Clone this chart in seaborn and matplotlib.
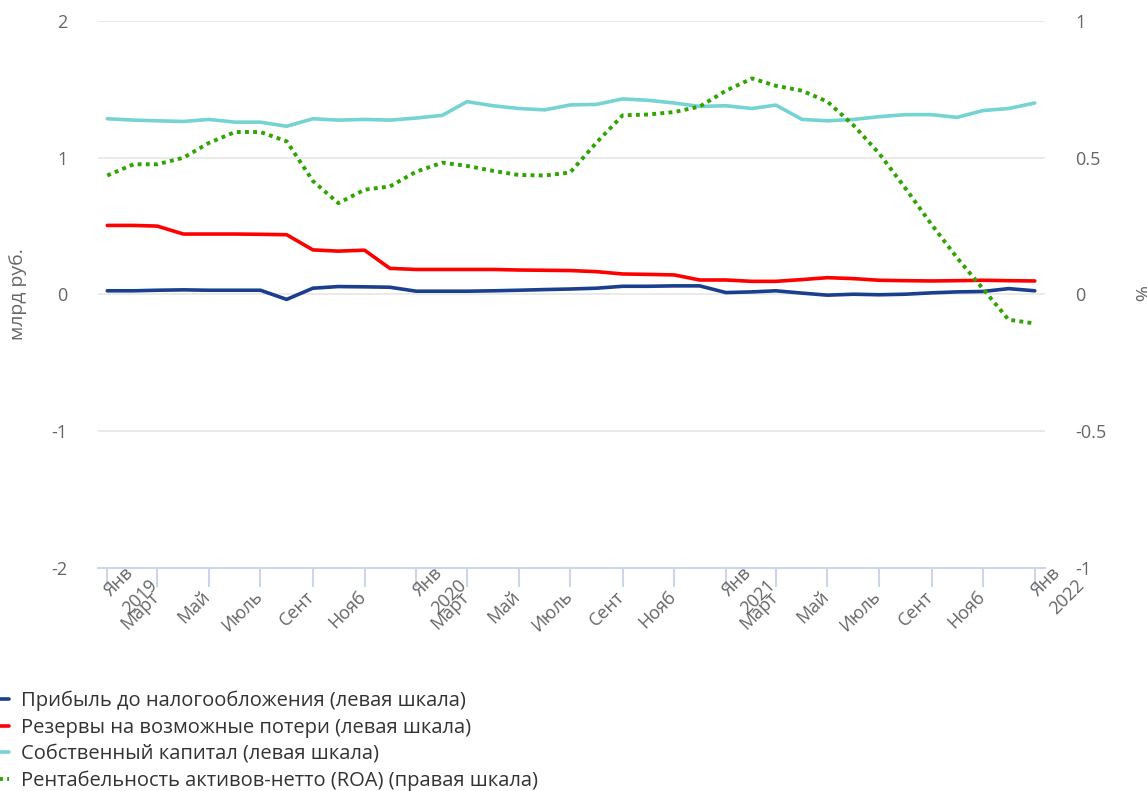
import pandas as pd
import numpy as np
import matplotlib
matplotlib.use('Agg')
import matplotlib.pyplot as plt
import seaborn as sns

# monthly data, Jan 2019 .. Jan 2022
months = pd.date_range('2019-01-01', '2022-01-01', freq='MS')

profit = [0.027, 0.027, 0.031, 0.034, 0.031, 0.031, 0.031, -0.036, 0.046, 0.058, 0.056, 0.053,
          0.024, 0.024, 0.024, 0.027, 0.031, 0.036, 0.040, 0.046, 0.060, 0.060, 0.063, 0.063,
          0.014, 0.019, 0.027, 0.010, -0.005, 0.002, -0.002, 0.002, 0.012, 0.019, 0.022, 0.043,
          0.027]
reserves = [0.505, 0.505, 0.500, 0.442, 0.442, 0.442, 0.440, 0.437, 0.326, 0.317, 0.324, 0.191,
            0.183, 0.183, 0.183, 0.183, 0.179, 0.177, 0.175, 0.167, 0.150, 0.147, 0.143, 0.106,
            0.106, 0.096, 0.096, 0.109, 0.123, 0.116, 0.104, 0.101, 0.099, 0.101, 0.104, 0.101,
            0.099]
capital = [1.285, 1.275, 1.270, 1.265, 1.280, 1.260, 1.260, 1.230, 1.285, 1.275, 1.280, 1.275,
           1.290, 1.310, 1.410, 1.380, 1.360, 1.350, 1.386, 1.390, 1.430, 1.420, 1.400, 1.375,
           1.380, 1.360, 1.385, 1.280, 1.270, 1.280, 1.300, 1.315, 1.315, 1.295, 1.345, 1.360,
           1.400]
roa = [0.435, 0.476, 0.476, 0.500, 0.554, 0.594, 0.594, 0.560, 0.415, 0.334, 0.383, 0.395,
       0.449, 0.482, 0.470, 0.452, 0.437, 0.435, 0.446, 0.555, 0.655, 0.658, 0.667, 0.687,
       0.745, 0.790, 0.763, 0.745, 0.705, 0.618, 0.516, 0.389, 0.256, 0.135, 0.020, -0.092,
       -0.106]

labels = ['Прибыль до налогообложения (левая шкала)',
          'Резервы на возможные потери (левая шкала)',
          'Собственный капитал (левая шкала)',
          'Рентабельность активов-нетто (ROA) (правая шкала)']
colors = ['#1b3f8f', '#ff0000', '#76d3d3', '#2ea500']

tick_dates = pd.to_datetime(['2019-01-01', '2019-03-01', '2019-05-01', '2019-07-01', '2019-09-01', '2019-11-01',
                             '2020-01-01', '2020-03-01', '2020-05-01', '2020-07-01', '2020-09-01', '2020-11-01',
                             '2021-01-01', '2021-03-01', '2021-05-01', '2021-07-01', '2021-09-01', '2021-11-01',
                             '2022-01-01'])
tick_labels = ['Янв\n2019', 'Март', 'Май', 'Июль', 'Сент', 'Нояб',
               'Янв\n2020', 'Март', 'Май', 'Июль', 'Сент', 'Нояб',
               'Янв\n2021', 'Март', 'Май', 'Июль', 'Сент', 'Нояб',
               'Янв\n2022']

sns.set_style('white')
plt.rcParams['font.family'] = ['Open Sans', 'DejaVu Sans']

fig = plt.figure(figsize=(11.47, 7.91), dpi=100)
ax = fig.add_axes([0.0854, 0.2819, 0.8256, 0.6916])
ax2 = ax.twinx()

df = pd.DataFrame({'date': months, 'profit': profit, 'reserves': reserves,
                   'capital': capital, 'roa': roa})

lw = 2.6
sns.lineplot(data=df, x='date', y='profit', ax=ax, color=colors[0], lw=lw, label=labels[0], legend=False)
sns.lineplot(data=df, x='date', y='reserves', ax=ax, color=colors[1], lw=lw, label=labels[1], legend=False)
sns.lineplot(data=df, x='date', y='capital', ax=ax, color=colors[2], lw=lw, label=labels[2], legend=False)
sns.lineplot(data=df, x='date', y='roa', ax=ax2, color=colors[3], lw=2.8, label=labels[3], legend=False,
             linestyle=(0, (1, 1.1)))

ax.set_ylim(-2, 2)
ax2.set_ylim(-1, 1)
ax.set_xlim(pd.Timestamp('2019-01-01') - pd.Timedelta(days=11), pd.Timestamp('2022-01-01') + pd.Timedelta(days=12))

ax.set_yticks([-2, -1, 0, 1, 2])
ax.set_yticklabels(['-2', '-1', '0', '1', '2'])
ax2.set_yticks([-1, -0.5, 0, 0.5, 1])
ax2.set_yticklabels(['-1', '-0.5', '0', '0.5', '1'])

# gridlines
for v in [-1, 0, 1, 2]:
    ax.axhline(v, color='#e6e6e6', lw=1.2, zorder=0)

for a in (ax, ax2):
    for s in ['top', 'left', 'right', 'bottom']:
        a.spines[s].set_visible(False)
ax.spines['bottom'].set_visible(True)
ax.spines['bottom'].set_color('#ccd6eb')
ax.spines['bottom'].set_linewidth(1.5)

# x ticks: marks from the axis, labels drawn as rotated annotations
ax.set_xticks(tick_dates)
ax.set_xticklabels([''] * len(tick_dates))
ax.tick_params(axis='x', length=14, color='#ccd6eb', width=1.5, direction='out', bottom=True)
lab_style = dict(xycoords=('data', 'axes fraction'), textcoords='offset pixels', rotation=45,
                 rotation_mode='anchor', ha='right', va='center', fontsize=13, color='#666666',
                 annotation_clip=False)
for d, lab in zip(tick_dates, tick_labels):
    if '\n' in lab:
        month, year = lab.split('\n')
        ax.annotate(month, xy=(d, 0), xytext=(23, -2), **lab_style)
        ax.annotate(year, xy=(d, 0), xytext=(47, -14), **lab_style)
    else:
        ax.annotate(lab, xy=(d, 0), xytext=(-1, -26), **lab_style)

ax.tick_params(axis='y', length=0, labelsize=13, labelcolor='#666666', pad=22)
ax2.tick_params(axis='y', length=0, labelsize=13, labelcolor='#666666', pad=22)

ax.set_xlabel('')
ax.set_ylabel('млрд руб.', fontsize=14, color='#666666', va='center', ha='center')
ax.yaxis.set_label_coords(-0.0845, 0.5)
ax2.set_ylabel('%', fontsize=14, color='#666666', rotation=270, va='center', ha='center')
ax2.yaxis.set_label_coords(1.099, 0.5)

h1, l1 = ax.get_legend_handles_labels()
h2, l2 = ax2.get_legend_handles_labels()
fig.legend(h1 + h2, l1 + l2, loc='upper left', bbox_to_anchor=(-0.003, 0.1264), frameon=False,
           fontsize=14.5, labelcolor='#333333', handlelength=0.6, handletextpad=0.6,
           labelspacing=0.31, borderpad=0, borderaxespad=0)

plt.savefig('out.png', dpi=100)
